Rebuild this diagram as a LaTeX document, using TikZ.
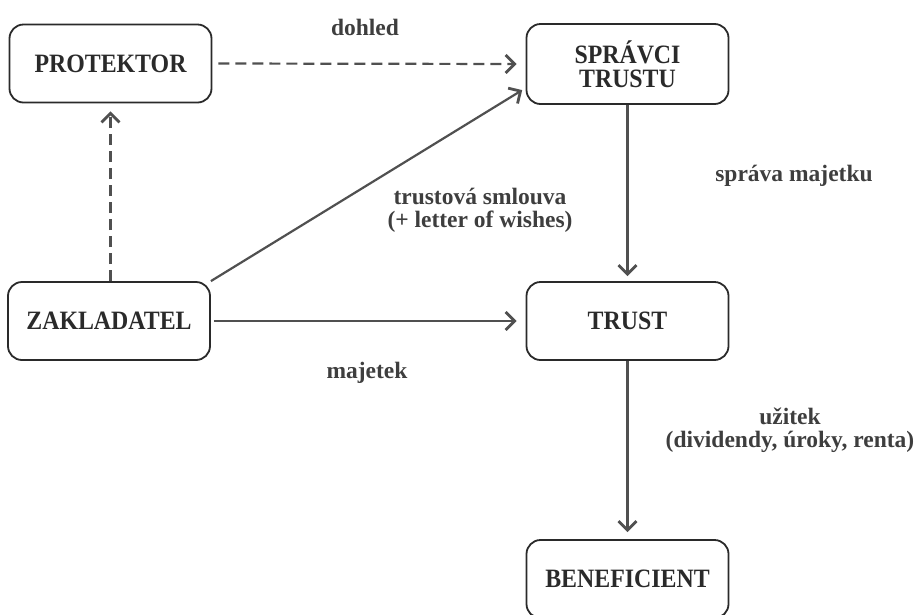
\documentclass[tikz,border=0pt]{standalone}
\usepackage{fontspec}
\setmainfont{Liberation Serif}
\newfontfamily\diafont[FakeStretch=0.9]{Liberation Serif}
\usetikzlibrary{arrows.meta}
\definecolor{ink}{HTML}{2A2A2A}
\definecolor{lbl}{HTML}{3E3E3E}
\definecolor{wire}{HTML}{505050}
\tikzset{
  box/.style={draw=ink, line width=1.8pt, rounded corners=14pt, minimum width=202pt, minimum height=78pt, align=center, inner sep=0pt, font=\diafont\fontsize{26.5}{24}\selectfont\bfseries, text=ink},
  lab/.style={font=\fontsize{23.5}{23}\selectfont\bfseries, text=lbl, align=center, inner sep=0pt, anchor=base},
  conn/.style={draw=wire, line width=2.2pt, -{Straight Barb[length=9pt,width=18pt,line width=2.8pt]}},
  dashconn/.style={conn, dash pattern=on 11pt off 6pt}
}
\begin{document}
\begin{tikzpicture}[x=1pt,y=-1pt]
\useasboundingbox (0,0) rectangle (923,614);
\node[box] (prot) at (110.5,63.5) {PROTEKTOR};
\node[box, minimum height=80pt] (spr) at (627.5,64) {SPRÁVCI\\TRUSTU};
\node[box] (zak) at (109,321) {ZAKLADATEL};
\node[box] (tru) at (627.5,321) {TRUST};
\node[box] (ben) at (627.5,579) {BENEFICIENT};

\draw[dashconn, shorten <=6pt, shorten >=9pt] (prot.east) -- (spr.west);
\draw[dashconn, shorten >=8pt] (zak.north -| prot.south) -- (prot.south);
\draw[conn, shorten >=4pt] (zak.north east) -- ([yshift=-24pt]spr.west);
\draw[conn, shorten <=3pt, shorten >=9pt] (zak.east) -- (tru.west);
\draw[conn, shorten >=5pt] (spr.south) -- (tru.north);
\draw[conn, shorten >=7pt] (tru.south) -- (ben.north);

\node[lab] (l1) at (365,35) {dohled};
\node[lab] (l2) at (794,181) {správa majetku};
\node[lab] (l3) at (480,227) {trustová smlouva\\(+ letter of wishes)};
\node[lab] (l4) at (367,378) {majetek};
\node[lab] (l5) at (790,447) {užitek\\(dividendy, úroky, renta)};
\end{tikzpicture}
\end{document}
